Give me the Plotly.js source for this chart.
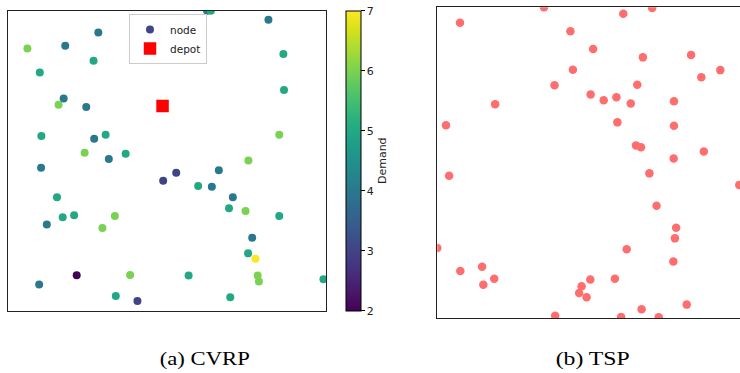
<!DOCTYPE html>
<html>
<head>
<meta charset="utf-8">
<script src="https://cdn.plot.ly/plotly-3.0.1.min.js"></script>
<style>
html,body{margin:0;padding:0;background:#fff;}
#chart{width:740px;height:373px;}
</style>
</head>
<body>
<div id="chart"></div>
<script>
// ---- CVRP data (normalised coordinates) ----
const cvrpX = [0.284,0.061,0.180,0.269,0.100,0.175,0.159,0.246,0.105,0.271,0.307,0.241,0.317,0.370,
  0.626,0.638,0.819,0.866,0.868,0.853,0.756,0.104,0.488,0.154,0.172,0.208,0.122,0.336,0.297,0.216,
  0.384,0.098,0.339,0.407,0.529,0.663,0.598,0.641,0.707,0.695,0.747,0.853,0.768,0.755,0.778,0.568,
  0.785,0.789,0.992,0.699];
const cvrpY = [0.927,0.874,0.883,0.833,0.794,0.708,0.687,0.679,0.583,0.574,0.587,0.527,0.506,0.524,
  1.000,1.000,0.970,0.856,0.736,0.587,0.501,0.477,0.434,0.379,0.312,0.319,0.288,0.316,0.276,0.119,
  0.120,0.088,0.050,0.033,0.460,0.469,0.416,0.414,0.379,0.342,0.333,0.316,0.244,0.192,0.174,0.118,
  0.118,0.098,0.106,0.046];
const demand = [4,6,4,5,5,4,6,4,5,4,5,6,4,5,
  4,5,4,5,5,6,6,4,3,5,5,5,4,6,6,2,
  6,4,5,3,3,4,5,4,4,5,6,5,4,5,7,5,
  6,6,5,5];
const depotX = [0.486];
const depotY = [0.683];

// ---- TSP data (normalised coordinates) ----
const tspX = [0.343,0.073,0.428,0.436,0.377,0.186,0.028,0.598,0.691,0.501,0.661,0.816,0.910,0.849,
  0.643,0.493,0.535,0.576,0.622,0.761,0.579,0.761,0.639,0.655,0.760,0.857,0.038,0.000,0.074,0.144,
  0.148,0.183,0.379,0.464,0.456,0.480,0.492,0.682,0.971,0.705,0.768,0.764,0.609,0.759,0.571,0.802,
  0.657,0.591,0.712];
const tspY = [1.000,0.950,0.923,0.799,0.749,0.688,0.621,0.979,0.998,0.866,0.839,0.847,0.798,0.775,
  0.751,0.720,0.701,0.711,0.691,0.698,0.630,0.619,0.556,0.550,0.514,0.536,0.458,0.226,0.152,0.166,
  0.108,0.127,0.008,0.103,0.081,0.068,0.125,0.466,0.429,0.362,0.291,0.257,0.222,0.183,0.127,0.044,
  0.029,0.004,0.003];

const legendNames = ['node','depot'];
const captions = ['(a) CVRP','(b) TSP'];
const cbTicks = [2,3,4,5,6,7];

const W = 740, H = 373;
const px = v => v / W;
const py = v => 1 - v / H;

const traces = [
  {
    x: cvrpX, y: cvrpY, type: 'scatter', mode: 'markers', xaxis: 'x', yaxis: 'y',
    showlegend: false, hoverinfo: 'skip',
    marker: {
      size: 8, color: demand, colorscale: 'Viridis', cmin: 2, cmax: 7,
      line: {width: 0},
      showscale: true,
      colorbar: {
        x: px(345.7), xanchor: 'left', xpad: 0,
        y: py(10.7), yanchor: 'top', ypad: 0,
        thickness: 15, thicknessmode: 'pixels',
        len: 300, lenmode: 'pixels',
        outlinewidth: 1, outlinecolor: '#000',
        tickvals: cbTicks, ticks: 'outside', ticklen: 3.5, tickwidth: 1, tickcolor: '#000',
        tickfont: {family: 'DejaVu Sans', size: 11, color: '#222'},
        title: {text: 'Demand', side: 'right', font: {family: 'DejaVu Sans', size: 11, color: '#222'}}
      }
    }
  },
  {
    x: depotX, y: depotY, type: 'scatter', mode: 'markers', xaxis: 'x', yaxis: 'y',
    showlegend: false, hoverinfo: 'skip',
    marker: {size: 12.5, symbol: 'square', color: '#ff0000', line: {width: 0}}
  },
  // legend entries
  {
    x: [null], y: [null], type: 'scatter', mode: 'markers', xaxis: 'x', yaxis: 'y',
    name: legendNames[0], showlegend: true,
    marker: {size: 8, color: '#414487', line: {width: 0}}
  },
  {
    x: [null], y: [null], type: 'scatter', mode: 'markers', xaxis: 'x', yaxis: 'y',
    name: legendNames[1], showlegend: true,
    marker: {size: 12.5, symbol: 'square', color: '#ff0000', line: {width: 0}}
  },
  {
    x: tspX, y: tspY, type: 'scatter', mode: 'markers', xaxis: 'x2', yaxis: 'y2',
    showlegend: false, hoverinfo: 'skip',
    marker: {size: 8.5, color: '#ff6e6e', line: {width: 0}}
  }
];

const axCommon = {showgrid: false, zeroline: false, showticklabels: false, ticks: '',
  showline: true, linecolor: '#222', linewidth: 1, fixedrange: true};

const layout = {
  width: W, height: H,
  margin: {l: 0, r: 0, t: 0, b: 0, pad: 0},
  paper_bgcolor: '#fff', plot_bgcolor: '#fff',
  showlegend: true,
  xaxis: Object.assign({}, axCommon, {domain: [px(8), px(326)], range: [0, 1], mirror: true, anchor: 'y'}),
  yaxis: Object.assign({}, axCommon, {domain: [py(311), py(10.7)], range: [0, 1], mirror: true, anchor: 'x'}),
  xaxis2: Object.assign({}, axCommon, {domain: [px(437.3), 1], range: [0, 302.7 / 311], mirror: true, anchor: 'y2'}),
  yaxis2: Object.assign({}, axCommon, {domain: [py(318.3), py(7.3)], range: [0, 1], mirror: false, anchor: 'x2'}),
  legend: {
    x: px(129), xanchor: 'left', y: py(14), yanchor: 'top',
    bgcolor: 'rgba(255,255,255,0.8)', bordercolor: '#cccccc', borderwidth: 1,
    font: {family: 'DejaVu Sans', size: 10.5, color: '#222'},
    itemsizing: 'trace', itemwidth: 30, tracegroupgap: 0
  },
  annotations: [
    {text: captions[0], xref: 'paper', yref: 'paper', x: px(204), y: py(359), xanchor: 'center', yanchor: 'middle',
     showarrow: false, font: {family: 'Liberation Serif', size: 19, color: '#000'}},
    {text: captions[1], xref: 'paper', yref: 'paper', x: px(592), y: py(359), xanchor: 'center', yanchor: 'middle',
     showarrow: false, font: {family: 'Liberation Serif', size: 19, color: '#000'}}
  ]
};

const captionWidths = [90, 74];
Plotly.newPlot('chart', traces, layout, {staticPlot: true, displayModeBar: false}).then(gd => {
  gd.querySelectorAll('.annotation-text').forEach((t, i) => {
    t.setAttribute('textLength', captionWidths[i]);
    t.setAttribute('lengthAdjust', 'spacingAndGlyphs');
  });
});
</script>
</body>
</html>
